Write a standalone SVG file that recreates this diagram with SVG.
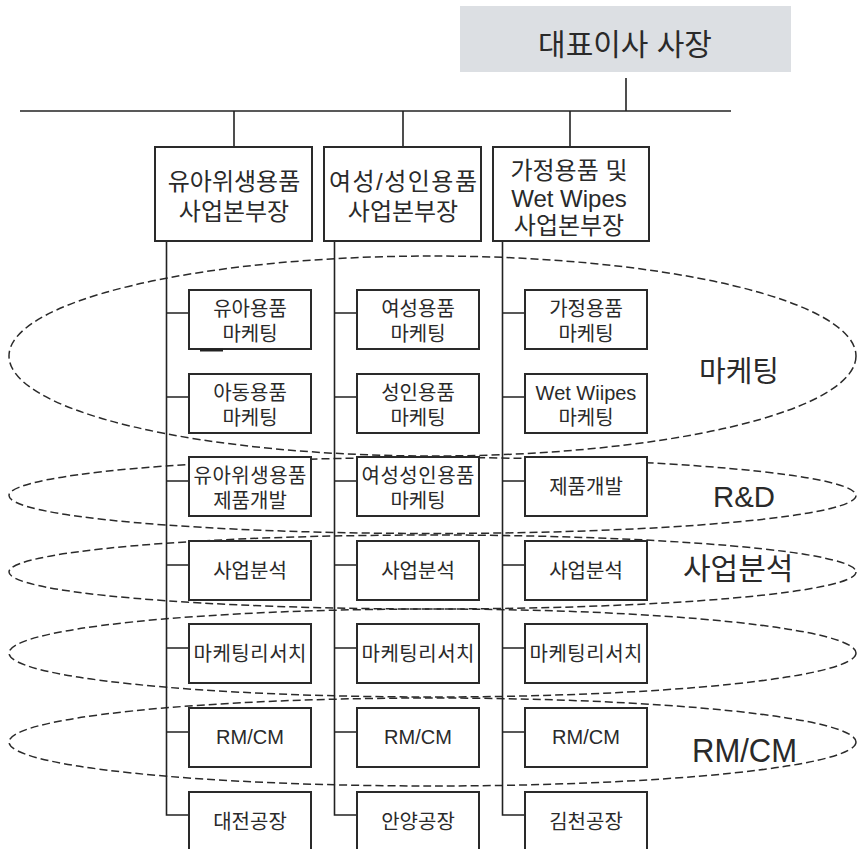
<svg xmlns="http://www.w3.org/2000/svg" width="857" height="849" viewBox="0 0 857 849">
<style>
  text { font-family: "Liberation Sans", "Noto Sans CJK KR", sans-serif; fill: #2a2a2a; text-anchor: middle; }
  .line { stroke: #222; stroke-width: 1.6; fill: none; }
  .box { fill: #fff; stroke: #2a2a2a; stroke-width: 2; }
  .sm { font-size: 20px; }
  .hd { font-size: 24px; }
  .ell { fill: none; stroke: #2a2a2a; stroke-width: 1.5; stroke-dasharray: 8 4; }
  .big { text-anchor: start; }
</style>
<rect width="857" height="849" fill="#fff"/>

<g id="groups">
  <ellipse class="ell" cx="432.5" cy="356" rx="423.5" ry="100"/>
  <ellipse class="ell" cx="432.5" cy="495.5" rx="423.5" ry="38"/>
  <ellipse class="ell" cx="432.5" cy="572" rx="423.5" ry="37"/>
  <ellipse class="ell" cx="432.5" cy="653" rx="423.5" ry="44"/>
  <ellipse class="ell" cx="432.5" cy="742" rx="423.5" ry="44"/>
  <text class="big" x="699" y="382" font-size="29">마케팅</text>
  <text class="big" x="713" y="507" font-size="30" textLength="62" lengthAdjust="spacingAndGlyphs">R&amp;D</text>
  <text class="big" x="683" y="579" font-size="30">사업분석</text>
  <text class="big" x="692" y="762" font-size="33" textLength="105" lengthAdjust="spacingAndGlyphs">RM/CM</text>
</g>

<g id="connectors">
  <line class="line" x1="626" y1="78" x2="626" y2="111"/>
  <line class="line" x1="20" y1="111" x2="731" y2="111"/>
  <line class="line" x1="234" y1="111" x2="234" y2="147"/>
  <line class="line" x1="403" y1="111" x2="403" y2="147"/>
  <line class="line" x1="570" y1="111" x2="570" y2="147"/>
  <path class="line" d="M166.5 241 V815 H189 M166.5 313 H189 M166.5 397 H189 M166.5 481 H189 M166.5 565 H189 M166.5 648 H189 M166.5 732 H189"/>
  <path class="line" d="M334.5 241 V815 H357 M334.5 313 H357 M334.5 397 H357 M334.5 481 H357 M334.5 565 H357 M334.5 648 H357 M334.5 732 H357"/>
  <path class="line" d="M502.5 241 V815 H525 M502.5 313 H525 M502.5 397 H525 M502.5 481 H525 M502.5 565 H525 M502.5 648 H525 M502.5 732 H525"/>
</g>

<g id="ceo">
  <rect x="460" y="6" width="331" height="66" fill="#dcdfe3"/>
  <text x="625" y="55" font-size="30">대표이사 사장</text>
</g>

<g id="div1">
  <rect class="box" x="155" y="147" width="157" height="94"/>
  <text class="hd" x="234" y="190">유아위생용품</text>
  <text class="hd" x="234" y="220">사업본부장</text>
</g>
<g id="div2">
  <rect class="box" x="324" y="147" width="157" height="94"/>
  <text class="hd" x="403" y="190" textLength="148">여성/성인용품</text>
  <text class="hd" x="403" y="220">사업본부장</text>
</g>
<g id="div3">
  <rect class="box" x="493" y="147" width="156" height="94"/>
  <text class="hd" x="569" y="179">가정용품 및</text>
  <text class="hd" x="569" y="207" font-size="23">Wet Wipes</text>
  <text class="hd" x="569" y="234">사업본부장</text>
</g>

<!-- column 1 -->
<g id="c1r1"><rect class="box" x="189" y="290" width="122" height="59"/><text class="sm" x="250" y="316">유아용품</text><text class="sm" x="250" y="341">마케팅</text></g>
<line x1="200" y1="350" x2="223" y2="350" stroke="#222" stroke-width="3"/>
<g id="c1r2"><rect class="box" x="189" y="374" width="122" height="59"/><text class="sm" x="250" y="400">아동용품</text><text class="sm" x="250" y="425">마케팅</text></g>
<g id="c1r3"><rect class="box" x="189" y="457" width="122" height="59"/><text class="sm" x="250" y="483" textLength="113">유아위생용품</text><text class="sm" x="250" y="508">제품개발</text></g>
<g id="c1r4"><rect class="box" x="189" y="541" width="122" height="59"/><text class="sm" x="250" y="578">사업분석</text></g>
<g id="c1r5"><rect class="box" x="189" y="624" width="122" height="59"/><text class="sm" x="250" y="661" textLength="113">마케팅리서치</text></g>
<g id="c1r6"><rect class="box" x="189" y="708" width="122" height="59"/><text class="sm" x="250" y="744" font-size="19">RM/CM</text></g>
<g id="c1r7"><rect class="box" x="189" y="792" width="122" height="59"/><text class="sm" x="250" y="829">대전공장</text></g>

<!-- column 2 -->
<g id="c2r1"><rect class="box" x="357" y="290" width="122" height="59"/><text class="sm" x="418" y="316">여성용품</text><text class="sm" x="418" y="341">마케팅</text></g>
<g id="c2r2"><rect class="box" x="357" y="374" width="122" height="59"/><text class="sm" x="418" y="400">성인용품</text><text class="sm" x="418" y="425">마케팅</text></g>
<g id="c2r3"><rect class="box" x="357" y="457" width="122" height="59"/><text class="sm" x="418" y="483" textLength="113">여성성인용품</text><text class="sm" x="418" y="508">마케팅</text></g>
<g id="c2r4"><rect class="box" x="357" y="541" width="122" height="59"/><text class="sm" x="418" y="578">사업분석</text></g>
<g id="c2r5"><rect class="box" x="357" y="624" width="122" height="59"/><text class="sm" x="418" y="661" textLength="113">마케팅리서치</text></g>
<g id="c2r6"><rect class="box" x="357" y="708" width="122" height="59"/><text class="sm" x="418" y="744" font-size="19">RM/CM</text></g>
<g id="c2r7"><rect class="box" x="357" y="792" width="122" height="59"/><text class="sm" x="418" y="829">안양공장</text></g>

<!-- column 3 -->
<g id="c3r1"><rect class="box" x="525" y="290" width="122" height="59"/><text class="sm" x="586" y="316">가정용품</text><text class="sm" x="586" y="341">마케팅</text></g>
<g id="c3r2"><rect class="box" x="525" y="374" width="122" height="59"/><text class="sm" x="586" y="400" font-size="19">Wet Wiipes</text><text class="sm" x="586" y="425">마케팅</text></g>
<g id="c3r3"><rect class="box" x="525" y="457" width="122" height="59"/><text class="sm" x="586" y="494">제품개발</text></g>
<g id="c3r4"><rect class="box" x="525" y="541" width="122" height="59"/><text class="sm" x="586" y="578">사업분석</text></g>
<g id="c3r5"><rect class="box" x="525" y="624" width="122" height="59"/><text class="sm" x="586" y="661" textLength="113">마케팅리서치</text></g>
<g id="c3r6"><rect class="box" x="525" y="708" width="122" height="59"/><text class="sm" x="586" y="744" font-size="19">RM/CM</text></g>
<g id="c3r7"><rect class="box" x="525" y="792" width="122" height="59"/><text class="sm" x="586" y="829">김천공장</text></g>
</svg>
